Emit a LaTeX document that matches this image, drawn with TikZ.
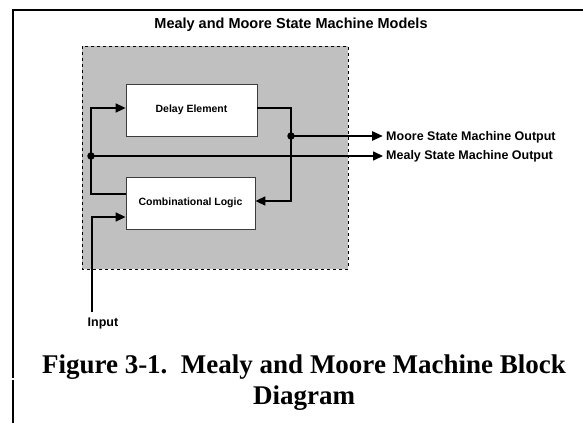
\documentclass[tikz,border=0pt]{standalone}
\usepackage{fontspec}
\setmainfont{Liberation Serif}
\setsansfont{Liberation Sans}
\usetikzlibrary{arrows.meta}
\definecolor{panelgray}{RGB}{192,192,192}
\definecolor{boxedge}{RGB}{60,60,60}
\begin{document}
\begin{tikzpicture}[x=1pt,y=-1pt,
  block/.style={draw=boxedge,line width=0.8pt,fill=white,inner sep=0pt,
    font=\sffamily\bfseries\fontsize{10.5}{12}\selectfont},
  wire/.style={line width=1.6pt},
  flow/.style={wire,-{Triangle[length=10pt,width=9pt]}},
  junction/.style={circle,fill=black,inner sep=0pt,minimum size=7.5pt},
  sig/.style={font=\sffamily\bfseries\fontsize{12.5}{14}\selectfont,inner sep=0pt},
  captionline/.style={anchor=base,inner sep=0pt,font=\rmfamily\bfseries\fontsize{27}{31}\selectfont}]
\useasboundingbox (0,0) rectangle (583,423);

% page frame
\draw[line width=2pt] (13,378) -- (13,10) -- (583,10);
\draw[line width=2pt] (12.5,379.5) -- (12.5,423);

% heading
\node[anchor=base,inner sep=0pt,font=\sffamily\bfseries\fontsize{14.5}{16}\selectfont]
  (title) at (291,28) {Mealy and Moore State Machine Models};

% shaded machine boundary
\draw[fill=panelgray,dashed,line width=0.6pt] (82,46) rectangle (348,269);

% blocks
\node[block,minimum width=131pt,minimum height=52pt] (delay) at (191.5,110) {Delay Element};
\node[block,minimum width=129pt,minimum height=52pt] (comb) at (190.5,203) {Combinational Logic};

% bend points and taps
\coordinate (fbl) at (91,194);
\coordinate (fbt) at (91,108);
\coordinate (fbr) at (291,108);
\coordinate (fbb) at (291,201);
\node[junction] (mealytap) at (91,156) {};
\node[junction] (mooretap) at (291,136) {};
\coordinate (inbot) at (92,312);
\coordinate (inbend) at (92,217);

% output labels
\node[sig,anchor=west] (moore) at (386,137) {Moore State Machine Output};
\node[sig,anchor=west] (mealy) at (386,156) {Mealy State Machine Output};
\node[sig] (input) at (103,323) {Input};

% combinational logic back into the delay element
\draw[wire] (comb.west |- fbl) -- (fbl) -- (mealytap.center);
\draw[flow] (mealytap.center) -- (fbt) -- (delay.west |- fbt);

% delay element into the combinational logic
\draw[wire] (delay.east |- fbr) -- (fbr) -- (mooretap.center);
\draw[flow] (mooretap.center) -- (fbb) -- (comb.east |- fbb);

% outputs
\draw[flow,line width=2.6pt,-{Triangle[length=11pt,width=9pt]}] (mooretap.center) -- ([xshift=-3pt]moore.west |- mooretap);
\draw[flow] (mealytap.center) -- ([xshift=-3pt]mealy.west);

% input
\draw[flow] (inbot) -- (inbend) -- (comb.west |- inbend);

% caption
\node[captionline] (caption1) at (304,373) {Figure 3-1.\ \ Mealy and Moore Machine Block};
\node[captionline] (caption2) at (304,404) {Diagram};
\end{tikzpicture}
\end{document}
